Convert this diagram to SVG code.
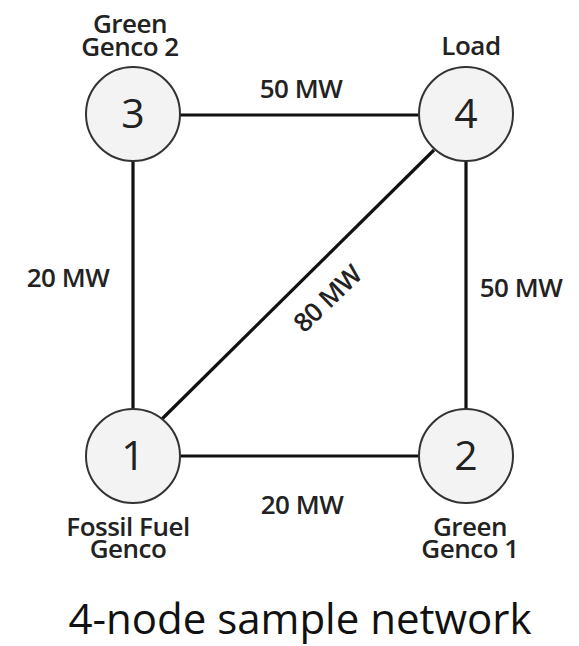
<svg xmlns="http://www.w3.org/2000/svg" width="579" height="646" viewBox="0 0 579 646">
<style>
.edge{stroke:#111;stroke-width:3.2;fill:none}
.node circle{fill:#f3f3f3;stroke:#333;stroke-width:2}
.num{font-family:"Open Sans","Liberation Sans",sans-serif;font-size:41px;fill:#222;text-anchor:middle}
.lbl{font-family:"Open Sans","Liberation Sans",sans-serif;font-size:26px;font-weight:600;fill:#222;text-anchor:middle;letter-spacing:-0.5px}
.title{font-family:"Open Sans","Liberation Sans",sans-serif;font-size:42px;fill:#111;text-anchor:middle}
</style>
<rect width="579" height="646" fill="#fff"/>
<g id="connectors">
<line class="edge" x1="180" y1="115" x2="419" y2="115"/>
<line class="edge" x1="133" y1="161" x2="133" y2="409"/>
<line class="edge" x1="466" y1="161" x2="466" y2="409"/>
<line class="edge" x1="180" y1="456" x2="419" y2="456"/>
<line class="edge" x1="162" y1="419" x2="434" y2="150"/>
<text class="lbl" x="301" y="98">50 MW</text>
<text class="lbl" x="68" y="287">20 MW</text>
<text class="lbl" x="521" y="297">50 MW</text>
<text class="lbl" x="0" y="10" transform="translate(327 298) rotate(-44)">80 MW</text>
<text class="lbl" x="302" y="514">20 MW</text>
</g>
<g id="node3" class="node">
<circle cx="133" cy="114" r="47"/>
<text class="num" x="133" y="128">3</text>
<text class="lbl"><tspan x="130" y="33">Green</tspan><tspan x="130" y="56">Genco 2</tspan></text>
</g>
<g id="node4" class="node">
<circle cx="466" cy="114" r="47"/>
<text class="num" x="466" y="128">4</text>
<text class="lbl" x="471" y="55">Load</text>
</g>
<g id="node1" class="node">
<circle cx="133" cy="456" r="47"/>
<text class="num" x="133" y="470">1</text>
<text class="lbl"><tspan x="128" y="536">Fossil Fuel</tspan><tspan x="128" y="558">Genco</tspan></text>
</g>
<g id="node2" class="node">
<circle cx="466" cy="456" r="47"/>
<text class="num" x="466" y="470">2</text>
<text class="lbl"><tspan x="470" y="536">Green</tspan><tspan x="470" y="558">Genco 1</tspan></text>
</g>
<text class="title" x="300" y="634">4-node sample network</text>
</svg>
